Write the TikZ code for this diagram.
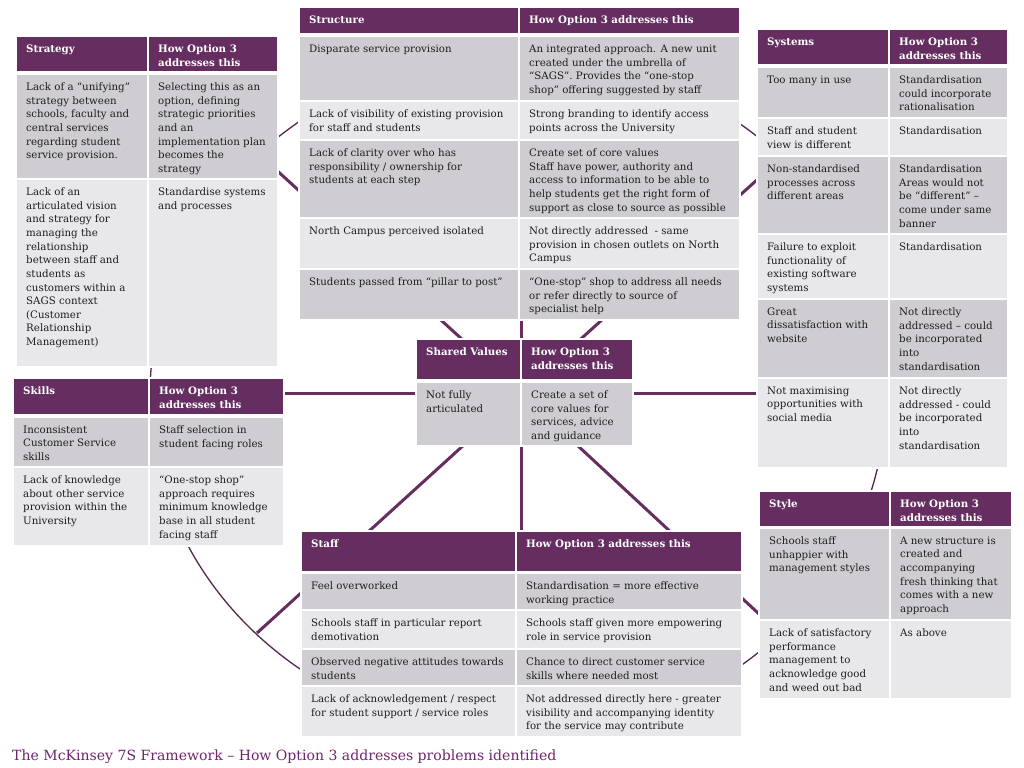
\documentclass[tikz,border=0pt]{standalone}
\usepackage{fontspec}
\setmainfont{DejaVu Serif}
\definecolor{hdr}{RGB}{101,45,96}
\definecolor{rowA}{RGB}{207,205,210}
\definecolor{rowB}{RGB}{232,231,234}
\definecolor{txt}{RGB}{30,30,30}
\definecolor{ttl}{RGB}{112,38,110}
\tikzset{
  celltext/.style={anchor=north west, inner sep=0pt, align=left, text=txt,
    font=\fontsize{10.3}{13.7}\selectfont},
  headtext/.style={anchor=north west, inner sep=0pt, align=left, text=white,
    font=\bfseries\fontsize{10.3}{13.7}\selectfont},
  spoke/.style={draw=hdr, line width=3bp},
  ring/.style={draw=hdr!85!black, line width=1.3bp},
  backdrop/.style={fill=white}
}
\newcommand\mkcell[7]{%
  \fill[#6] (#2,#3) rectangle (#4,#5);
  \node[celltext] (#1) at ({#2+9},{#3+7.5}) {#7};}
\newcommand\mkhead[6]{%
  \fill[hdr] (#2,#3) rectangle (#4,#5);
  \node[headtext] (#1) at ({#2+9},{#3+7.5}) {#6};}
\newcommand\mkback[4]{\fill[backdrop] ({#1-2},{#2-2}) rectangle ({#3+2},{#4+2});}
\begin{document}
\begin{tikzpicture}[x=1bp,y=-1bp]
\useasboundingbox (0,0) rectangle (1024,768);
\fill[white] (0,0) rectangle (1024,768);
% ring and spokes
\coordinate (ringc) at (518,395);
\draw[ring] (ringc) ellipse [x radius=368bp, y radius=340bp];
\coordinate (ctr) at (521,393);
\coordinate (eUL) at (250,146);
\coordinate (eU) at (521,300);
\coordinate (eUR) at (790,150);
\coordinate (eL) at (220,393);
\coordinate (eR) at (800,393);
\coordinate (eDL) at (257,633);
\coordinate (eD) at (521,600);
\coordinate (eDR) at (800,652);
\foreach \e in {eUL,eU,eUR,eL,eR,eDL,eD,eDR} \draw[spoke] (ctr) -- (\e);

% ---------------- Strategy
\mkback{17}{37}{277}{366}
\mkhead{stH1}{17}{37}{147}{71}{Strategy}
\mkhead{stH2}{149}{37}{277}{71}{How Option 3\\addresses this}
\mkcell{st1a}{17}{75}{147}{178}{rowA}{Lack of a “unifying”\\strategy between\\schools, faculty and\\central services\\regarding student\\service provision.}
\mkcell{st1b}{149}{75}{277}{178}{rowA}{Selecting this as an\\option, defining\\strategic priorities\\and an\\implementation plan\\becomes the\\strategy}
\mkcell{st2a}{17}{180}{147}{366}{rowB}{Lack of an\\articulated vision\\and strategy for\\managing the\\relationship\\between staff and\\students as\\customers within a\\SAGS context\\(Customer\\Relationship\\Management)}
\mkcell{st2b}{149}{180}{277}{366}{rowB}{Standardise systems\\and processes}

% ---------------- Structure
\mkback{300}{8}{739}{319}
\mkhead{srH1}{300}{8}{518}{33}{Structure}
\mkhead{srH2}{520}{8}{739}{33}{How Option 3 addresses this}
\mkcell{sr1a}{300}{37}{518}{100}{rowA}{Disparate service provision}
\mkcell{sr1b}{520}{37}{739}{100}{rowA}{An integrated approach. A new unit\\created under the umbrella of\\“SAGS”. Provides the “one-stop\\shop” offering suggested by staff}
\mkcell{sr2a}{300}{102}{518}{139}{rowB}{Lack of visibility of existing provision\\for staff and students}
\mkcell{sr2b}{520}{102}{739}{139}{rowB}{Strong branding to identify access\\points across the University}
\mkcell{sr3a}{300}{141}{518}{217}{rowA}{Lack of clarity over who has\\responsibility / ownership for\\students at each step}
\mkcell{sr3b}{520}{141}{739}{217}{rowA}{Create set of core values\\Staff have power, authority and\\access to information to be able to\\help students get the right form of\\support as close to source as possible}
\mkcell{sr4a}{300}{219}{518}{268}{rowB}{North Campus perceived isolated}
\mkcell{sr4b}{520}{219}{739}{268}{rowB}{Not directly addressed\ \ - same\\provision in chosen outlets on North\\Campus}
\mkcell{sr5a}{300}{270}{518}{319}{rowA}{Students passed from “pillar to post”}
\mkcell{sr5b}{520}{270}{739}{319}{rowA}{“One-stop” shop to address all needs\\or refer directly to source of\\specialist help}

% ---------------- Systems
\mkback{758}{30}{1007}{467}
\mkhead{syH1}{758}{30}{888}{64}{Systems}
\mkhead{syH2}{890}{30}{1007}{64}{How Option 3\\addresses this}
\mkcell{sy1a}{758}{68}{888}{117}{rowA}{Too many in use}
\mkcell{sy1b}{890}{68}{1007}{117}{rowA}{Standardisation\\could incorporate\\rationalisation}
\mkcell{sy2a}{758}{119}{888}{155}{rowB}{Staff and student\\view is different}
\mkcell{sy2b}{890}{119}{1007}{155}{rowB}{Standardisation}
\mkcell{sy3a}{758}{157}{888}{233}{rowA}{Non-standardised\\processes across\\different areas}
\mkcell{sy3b}{890}{157}{1007}{233}{rowA}{Standardisation\\Areas would not\\be “different” –\\come under same\\banner}
\mkcell{sy4a}{758}{235}{888}{298}{rowB}{Failure to exploit\\functionality of\\existing software\\systems}
\mkcell{sy4b}{890}{235}{1007}{298}{rowB}{Standardisation}
\mkcell{sy5a}{758}{300}{888}{377}{rowA}{Great\\dissatisfaction with\\website}
\mkcell{sy5b}{890}{300}{1007}{377}{rowA}{Not directly\\addressed – could\\be incorporated\\into\\standardisation}
\mkcell{sy6a}{758}{379}{888}{467}{rowB}{Not maximising\\opportunities with\\social media}
\mkcell{sy6b}{890}{379}{1007}{467}{rowB}{Not directly\\addressed - could\\be incorporated\\into\\standardisation}

% ---------------- Skills
\mkback{14}{379}{283}{545}
\mkhead{skH1}{14}{379}{148}{414}{Skills}
\mkhead{skH2}{150}{379}{283}{414}{How Option 3\\addresses this}
\mkcell{sk1a}{14}{418}{148}{466}{rowA}{Inconsistent\\Customer Service\\skills}
\mkcell{sk1b}{150}{418}{283}{466}{rowA}{Staff selection in\\student facing roles}
\mkcell{sk2a}{14}{468}{148}{545}{rowB}{Lack of knowledge\\about other service\\provision within the\\University}
\mkcell{sk2b}{150}{468}{283}{545}{rowB}{“One-stop shop”\\approach requires\\minimum knowledge\\base in all student\\facing staff}

% ---------------- Shared Values
\mkback{417}{340}{632}{445}
\mkhead{svH1}{417}{340}{520}{379}{Shared Values}
\mkhead{svH2}{522}{340}{632}{379}{How Option 3\\addresses this}
\mkcell{sv1a}{417}{383}{520}{445}{rowA}{Not fully\\articulated}
\mkcell{sv1b}{522}{383}{632}{445}{rowA}{Create a set of\\core values for\\services, advice\\and guidance}

% ---------------- Staff
\mkback{302}{532}{741}{736}
\mkhead{sfH1}{302}{532}{515}{571}{Staff}
\mkhead{sfH2}{517}{532}{741}{571}{How Option 3 addresses this}
\mkcell{sf1a}{302}{574}{515}{609}{rowA}{Feel overworked}
\mkcell{sf1b}{517}{574}{741}{609}{rowA}{Standardisation = more effective\\working practice}
\mkcell{sf2a}{302}{611}{515}{648}{rowB}{Schools staff in particular report\\demotivation}
\mkcell{sf2b}{517}{611}{741}{648}{rowB}{Schools staff given more empowering\\role in service provision}
\mkcell{sf3a}{302}{650}{515}{685}{rowA}{Observed negative attitudes towards\\students}
\mkcell{sf3b}{517}{650}{741}{685}{rowA}{Chance to direct customer service\\skills where needed most}
\mkcell{sf4a}{302}{687}{515}{736}{rowB}{Lack of acknowledgement / respect\\for student support / service roles}
\mkcell{sf4b}{517}{687}{741}{736}{rowB}{Not addressed directly here - greater\\visibility and accompanying identity\\for the service may contribute}

% ---------------- Style
\mkback{760}{492}{1011}{698}
\mkhead{syl1}{760}{492}{889}{526}{Style}
\mkhead{syl2}{891}{492}{1011}{526}{How Option 3\\addresses this}
\mkcell{sl1a}{760}{529}{889}{619}{rowA}{Schools staff\\unhappier with\\management styles}
\mkcell{sl1b}{891}{529}{1011}{619}{rowA}{A new structure is\\created and\\accompanying\\fresh thinking that\\comes with a new\\approach}
\mkcell{sl2a}{760}{621}{889}{698}{rowB}{Lack of satisfactory\\performance\\management to\\acknowledge good\\and weed out bad}
\mkcell{sl2b}{891}{621}{1011}{698}{rowB}{As above}

% ---------------- Title
\node[anchor=west, inner sep=0pt, text=ttl, font=\fontsize{14.1}{17}\selectfont] (title) at (12,757)
  {The McKinsey 7S Framework – How Option 3 addresses problems identified};
\end{tikzpicture}
\end{document}
